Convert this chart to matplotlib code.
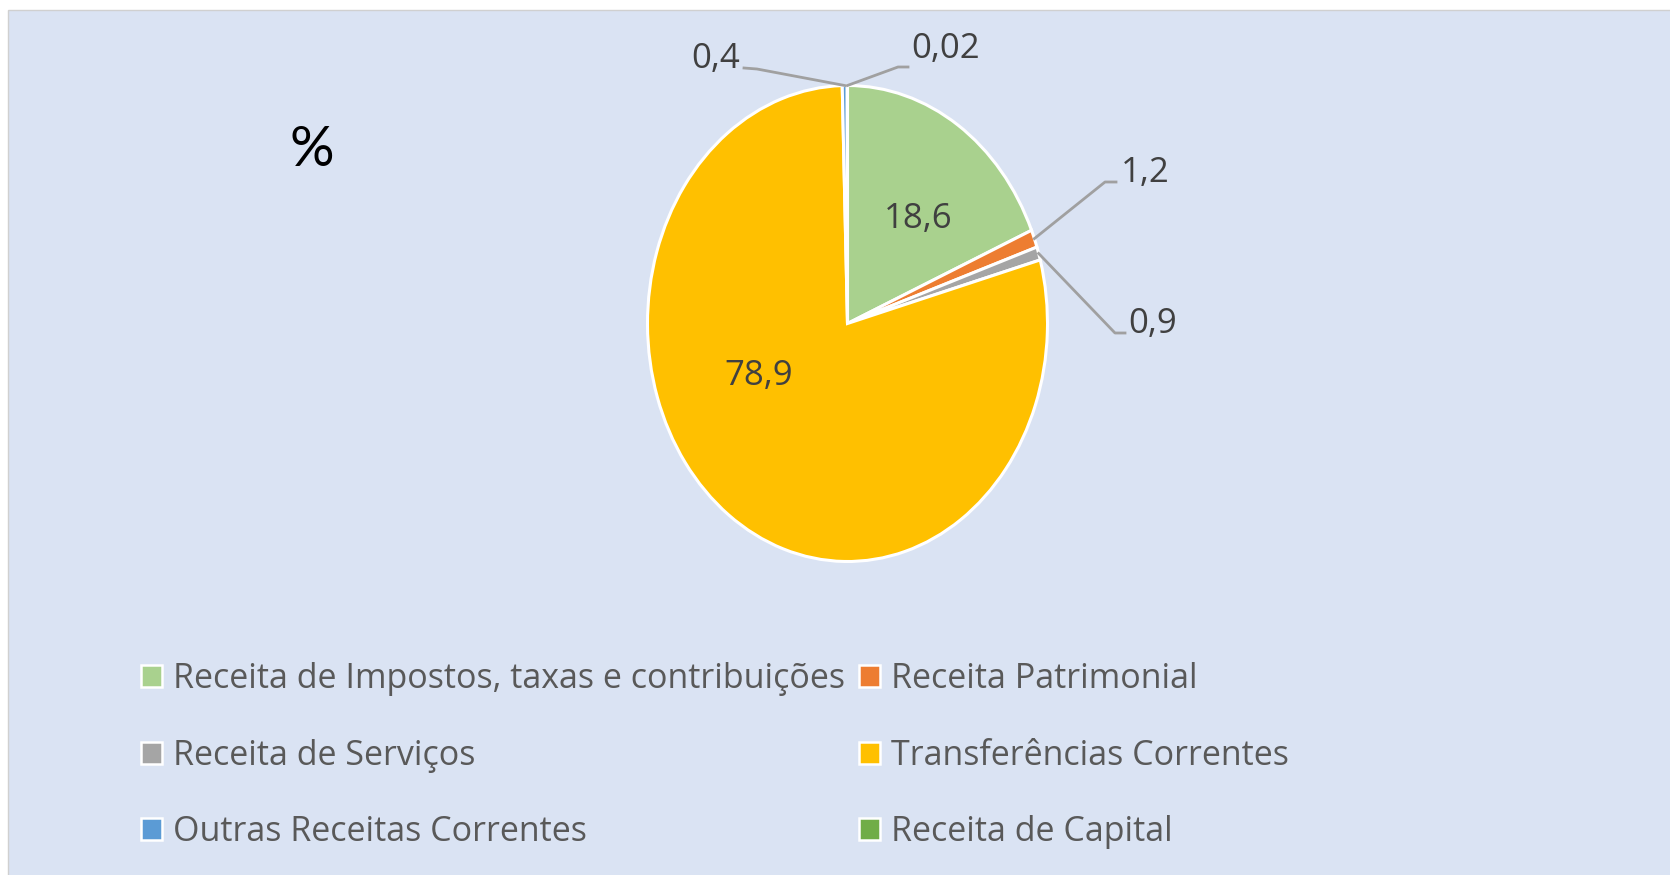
import matplotlib
matplotlib.use("Agg")
import matplotlib.pyplot as plt
import numpy as np
from matplotlib.patches import Patch, Rectangle

categories = [
    "Receita de Impostos, taxas e contribuições",
    "Receita Patrimonial",
    "Receita de Serviços",
    "Transferências Correntes",
    "Outras Receitas Correntes",
    "Receita de Capital",
]
shares = [18.6, 1.2, 0.9, 78.9, 0.4, 0.02]
share_labels = ["18,6", "1,2", "0,9", "78,9", "0,4", "0,02"]
colors = ["#A9D18E", "#ED7D31", "#A5A5A5", "#FFC000", "#5B9BD5", "#70AD47"]

W, H = 1670, 875
plt.rcParams['font.family'] = ['Open Sans', 'DejaVu Sans']

fig = plt.figure(figsize=(W / 100, H / 100), dpi=100, facecolor='white')
fig.patches.append(Rectangle((8 / W, -0.01), 1, 1 - 10 / H + 0.01, transform=fig.transFigure,
                             facecolor='#DAE3F3', edgecolor='#D0D0D0', lw=1, zorder=-5))

# the pie is stretched into an ellipse, box in pixels
cx, cy, rx, ry = 847.5, 323.5, 200, 238
ax = fig.add_axes([(cx - rx) / W, (H - cy - ry) / H, 2 * rx / W, 2 * ry / H])
wedges, _ = ax.pie(shares, colors=colors, startangle=90, counterclock=False,
                   wedgeprops=dict(edgecolor='white', linewidth=2.2))
for w in wedges:
    w.set_clip_on(False)
ax.set_aspect('auto')
ax.set_xlim(-1, 1)
ax.set_ylim(-1, 1)
ax.axis('off')


def px(x, y):
    # pixel position -> data coords of the pie axes
    return (x - cx) / rx, (cy - y) / ry


def mid_angle(w):
    return np.deg2rad((w.theta1 + w.theta2) / 2)


lab_kw = dict(fontsize=25, color='#404040')
line_kw = dict(color='#A0A0A0', lw=2.0, clip_on=False)

# labels inside the big slices (text x, baseline y in pixels)
inside = {0: (918, 228), 3: (759, 385)}
for i, (x, y) in inside.items():
    ax.text(*px(x, y), share_labels[i], ha='center', va='baseline', **lab_kw)

# outside labels: elbow points of leader line, text anchor, alignment
outside = {
    1: ([(1105, 182), (1116, 182)], (1121, 182), 'left'),
    2: ([(1115, 333), (1125, 333)], (1128, 333), 'left'),
    4: ([(757, 69), (744, 68)], (740, 68), 'right'),
    5: ([(898, 67), (908, 67)], (911, 58), 'left'),
}
for i, (elbow, (tx, ty), ha) in outside.items():
    a = mid_angle(wedges[i])
    pts = [(np.cos(a), np.sin(a))] + [px(x, y) for x, y in elbow]
    xs, ys = zip(*pts)
    ax.plot(xs, ys, **line_kw)
    ax.text(*px(tx, ty), share_labels[i], ha=ha, va='baseline', **lab_kw)

fig.text(312 / W, 1 - 151 / H, "%", fontsize=40, color='black', ha='center', va='center',
         family=['Lato', 'DejaVu Sans'])

# legend, row-major order like the original
order = [0, 2, 4, 1, 3, 5]
handles = [Patch(facecolor=colors[i], edgecolor='white', lw=1.8, label=categories[i]) for i in order]
fig.legend(handles=handles, loc='upper left', bbox_to_anchor=(141 / W, 1 - 662 / H),
           ncol=2, frameon=False, fontsize=24.5, labelcolor='#595959',
           handlelength=0.62, handleheight=0.62, handletextpad=0.32,
           columnspacing=0.42, labelspacing=1.255, borderpad=0, borderaxespad=0)

fig.savefig("out.png", dpi=100, facecolor=fig.get_facecolor())
